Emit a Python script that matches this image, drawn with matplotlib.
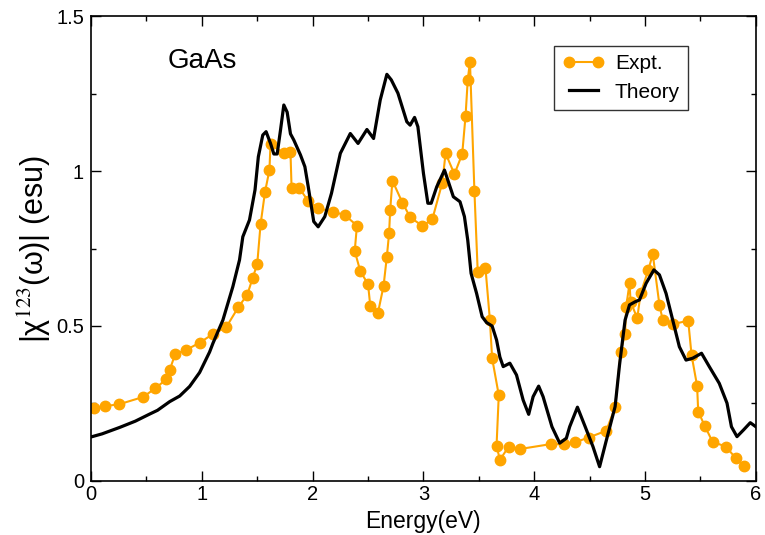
import matplotlib
matplotlib.use("Agg")
import matplotlib.pyplot as plt
from matplotlib.ticker import MultipleLocator, FuncFormatter

plt.rcParams['font.family'] = ['Liberation Sans', 'DejaVu Sans']
plt.rcParams['mathtext.fontset'] = 'stix'

expt_energy = [0.03, 0.13, 0.25, 0.47, 0.58, 0.68, 0.71, 0.76, 0.86, 0.98, 1.10, 1.22,
               1.33, 1.41, 1.46, 1.50, 1.53, 1.57, 1.61, 1.62, 1.74, 1.80, 1.81, 1.88,
               1.96, 2.05, 2.18, 2.29, 2.40, 2.38, 2.43, 2.50, 2.52, 2.59, 2.64, 2.67,
               2.69, 2.70, 2.72, 2.81, 2.88, 2.99, 3.08, 3.17, 3.20, 3.28, 3.35, 3.38,
               3.40, 3.42, 3.46, 3.49, 3.56, 3.60, 3.62, 3.68, 3.66, 3.69, 3.77, 3.87,
               4.15, 4.27, 4.37, 4.49, 4.65, 4.73, 4.78, 4.82, 4.83, 4.86, 4.87, 4.93,
               4.96, 5.03, 5.07, 5.13, 5.16, 5.25, 5.39, 5.42, 5.47, 5.48, 5.54, 5.61,
               5.73, 5.82, 5.89]
expt_chi = [0.234, 0.242, 0.247, 0.271, 0.299, 0.328, 0.358, 0.410, 0.423, 0.446, 0.474, 0.496,
            0.561, 0.601, 0.656, 0.700, 0.828, 0.932, 1.003, 1.086, 1.057, 1.062, 0.945, 0.945,
            0.903, 0.880, 0.869, 0.858, 0.824, 0.742, 0.677, 0.635, 0.566, 0.543, 0.629, 0.724,
            0.799, 0.874, 0.969, 0.898, 0.851, 0.823, 0.844, 0.962, 1.057, 0.990, 1.055, 1.177,
            1.294, 1.353, 0.937, 0.675, 0.687, 0.519, 0.396, 0.277, 0.114, 0.068, 0.111, 0.103,
            0.119, 0.119, 0.125, 0.140, 0.162, 0.238, 0.417, 0.475, 0.562, 0.638, 0.578, 0.525,
            0.605, 0.681, 0.732, 0.568, 0.519, 0.506, 0.517, 0.406, 0.307, 0.224, 0.177, 0.126,
            0.111, 0.073, 0.049]

theory_energy = [0.00, 0.10, 0.26, 0.40, 0.53, 0.60, 0.71, 0.80, 0.89, 0.98, 1.07, 1.10, 1.19,
                 1.28, 1.34, 1.37, 1.43, 1.48, 1.51, 1.55, 1.58, 1.62, 1.65, 1.68, 1.71, 1.74,
                 1.77, 1.80, 1.83, 1.89, 1.93, 1.96, 2.01, 2.05, 2.11, 2.17, 2.25, 2.34, 2.41,
                 2.49, 2.55, 2.61, 2.67, 2.71, 2.77, 2.85, 2.88, 2.92, 2.95, 3.00, 3.04, 3.07,
                 3.12, 3.19, 3.22, 3.27, 3.33, 3.37, 3.40, 3.43, 3.48, 3.53, 3.57, 3.62, 3.66,
                 3.69, 3.72, 3.78, 3.84, 3.90, 3.95, 3.99, 4.04, 4.08, 4.16, 4.23, 4.29, 4.32,
                 4.39, 4.46, 4.53, 4.59, 4.65, 4.73, 4.77, 4.82, 4.86, 4.91, 4.95, 5.01, 5.08,
                 5.13, 5.19, 5.25, 5.31, 5.37, 5.43, 5.51, 5.58, 5.67, 5.74, 5.78, 5.83, 5.89,
                 5.95, 6.00]
theory_chi = [0.142, 0.152, 0.173, 0.193, 0.216, 0.228, 0.256, 0.274, 0.305, 0.350, 0.416, 0.444,
              0.519, 0.627, 0.713, 0.788, 0.842, 0.939, 1.046, 1.116, 1.127, 1.089, 1.055, 1.055,
              1.132, 1.213, 1.190, 1.120, 1.100, 1.052, 1.014, 0.950, 0.837, 0.820, 0.853, 0.928,
              1.057, 1.121, 1.089, 1.134, 1.105, 1.229, 1.312, 1.294, 1.251, 1.159, 1.148, 1.173,
              1.143, 0.993, 0.896, 0.896, 0.949, 1.003, 0.971, 0.917, 0.901, 0.853, 0.777, 0.670,
              0.605, 0.530, 0.511, 0.500, 0.455, 0.400, 0.369, 0.380, 0.342, 0.261, 0.215, 0.272,
              0.306, 0.272, 0.175, 0.122, 0.138, 0.175, 0.238, 0.175, 0.111, 0.046, 0.130, 0.240,
              0.375, 0.519, 0.568, 0.578, 0.584, 0.638, 0.681, 0.665, 0.605, 0.519, 0.433, 0.390,
              0.396, 0.412, 0.369, 0.315, 0.251, 0.175, 0.143, 0.165, 0.188, 0.175]

fig = plt.figure(figsize=(7.65, 5.35), dpi=100)
ax = fig.add_axes([0.119, 0.101, 0.869, 0.869])

ax.plot(expt_energy, expt_chi, '-o', color='orange', lw=1.5, ms=7.5, label='Expt.')
ax.plot(theory_energy, theory_chi, '-', color='black', lw=2.3, label='Theory')

ax.set_xlim(0, 6)
ax.set_ylim(0, 1.5)
ax.xaxis.set_major_locator(MultipleLocator(1))
ax.xaxis.set_minor_locator(MultipleLocator(0.5))
ax.yaxis.set_major_locator(MultipleLocator(0.5))
ax.yaxis.set_minor_locator(MultipleLocator(0.25))
fmt = FuncFormatter(lambda v, p: ('%g' % v))
ax.xaxis.set_major_formatter(fmt)
ax.yaxis.set_major_formatter(fmt)
ax.tick_params(which='both', direction='in', top=True, right=True, labelsize=14.5)
ax.tick_params(axis='y', pad=5)
ax.tick_params(axis='x', pad=3)
ax.tick_params(which='major', length=7, width=1)
ax.tick_params(which='minor', length=3.5, width=1)
for s in ax.spines.values():
    s.set_linewidth(1.2)

ax.set_xlabel('Energy(eV)', fontsize=16.5, labelpad=4)
ax.set_ylabel(r'|χ$^{\rm 123}$(ω)| (esu)', fontsize=22, labelpad=2)

ax.text(0.69, 1.333, 'GaAs', fontsize=20, ha='left', va='baseline')

leg = ax.legend(loc='upper left', bbox_to_anchor=(0.697, 0.936), fontsize=15,
                frameon=True, fancybox=False, edgecolor='black', numpoints=2,
                handlelength=2.0, borderpad=0.4, labelspacing=0.45, handletextpad=0.5,
                borderaxespad=0)
leg.get_frame().set_linewidth(1.0)

fig.savefig('out.png', dpi=100)
